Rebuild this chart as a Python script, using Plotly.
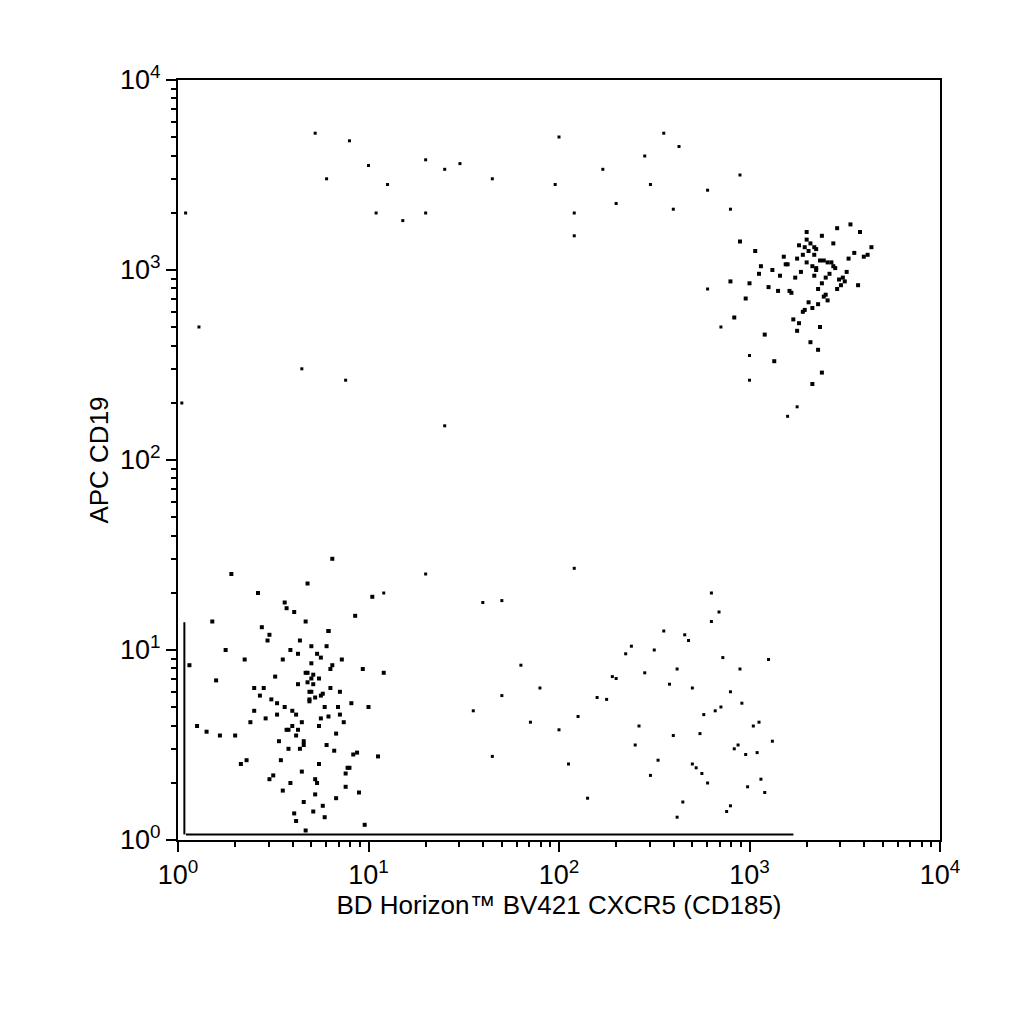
import plotly.graph_objects as go

# log10 coordinates of events
# population A: CXCR5- CD19- (bottom left)
xa = [0.72,0.65,0.80,0.58,0.70,0.77,0.62,0.68,0.85,0.55,0.74,0.69,0.60,0.79,0.66,0.71,0.52,0.88,0.63,0.75,
      0.45,0.92,0.67,0.57,0.81,0.73,0.49,0.64,0.78,0.70,0.40,0.95,0.61,0.83,0.68,0.54,0.76,0.59,0.87,0.66,
      0.35,1.00,0.71,0.48,0.82,0.63,0.74,0.56,0.90,0.69,0.30,0.97,0.62,0.44,0.79,0.72,0.51,0.85,0.67,0.58,
      0.25,1.05,0.75,0.42,0.88,0.60,0.70,0.53,0.93,0.65,0.20,0.38,0.77,0.47,0.84,0.64,0.73,0.55,0.80,0.68,
      0.15,1.08,0.33,0.91,0.57,0.76,0.62,0.86,0.50,0.71,0.10,0.28,0.98,0.43,0.66,0.79,0.59,0.74,0.46,0.83,
      0.06,0.22,1.02,0.36,0.69,0.61,0.78,0.52,0.89,0.67,0.18,0.94,0.40,0.72,0.56,0.81,0.63,0.75,0.48,0.70]
ya = [0.75,0.62,0.90,0.48,1.02,0.70,0.55,0.83,0.66,0.95,0.40,0.78,0.60,1.10,0.52,0.87,0.72,0.35,0.98,0.64,
      0.80,0.45,1.15,0.58,0.92,0.30,0.74,1.05,0.50,0.85,0.68,0.25,1.20,0.56,0.88,0.42,0.77,1.00,0.62,0.20,
      0.95,0.70,0.15,1.08,0.47,0.82,0.60,1.25,0.38,0.73,0.55,0.90,0.10,1.12,0.65,0.32,0.86,0.78,0.05,0.58,
      1.00,0.44,0.76,1.30,0.28,0.68,0.93,0.52,1.18,0.36,0.84,0.62,0.12,1.05,0.70,0.48,0.98,0.26,0.80,1.35,
      0.57,0.88,0.40,0.72,1.22,0.18,0.66,0.95,0.34,0.82,0.60,1.40,0.08,0.76,0.50,1.10,0.30,0.85,0.64,0.22,
      0.92,0.55,1.28,0.42,0.74,0.14,1.02,0.66,0.38,0.88,1.15,0.46,0.80,0.24,0.70,1.48,0.58,0.96,0.32,0.78]

# population B: CXCR5+ CD19+ (top right)
xb = [3.35,3.30,3.40,3.28,3.38,3.33,3.42,3.25,3.36,3.31,3.45,3.22,3.37,3.34,3.29,3.48,3.20,3.39,3.32,3.27,
      3.50,3.18,3.41,3.35,3.24,3.44,3.30,3.15,3.52,3.36,3.26,3.47,3.12,3.38,3.33,3.55,3.10,3.43,3.28,3.58,
      3.05,3.40,3.34,3.23,3.60,3.00,3.46,3.31,3.19,3.37,2.95,3.49,3.29,3.62,3.08,3.35,3.21,3.53,2.92,3.39,
      3.32,3.16,3.44,3.26,3.57,3.03,3.36,3.41,2.98,3.30,3.13,3.51,3.34,3.25,3.46,3.06,3.38,3.64,2.90,3.33]
yb = [3.00,3.04,2.96,3.08,2.93,3.02,2.98,3.06,2.90,3.10,3.01,2.88,3.05,2.97,3.12,2.92,3.03,2.86,3.14,2.99,
      2.94,3.07,2.84,3.11,2.96,3.02,3.16,2.89,3.06,2.82,3.13,2.95,3.00,3.18,2.80,3.09,2.91,3.04,2.78,3.20,
      2.98,2.87,3.12,2.74,3.07,2.93,3.22,2.83,3.03,2.70,3.15,2.96,2.79,3.08,2.66,3.01,2.89,3.24,2.75,3.05,
      2.62,2.97,3.14,2.72,2.92,3.10,2.58,3.04,2.85,3.20,2.52,2.99,3.08,2.68,2.90,3.02,2.46,3.12,2.94,2.40]

# population C: CXCR5+ CD19- (bottom middle)
xc = [2.85,2.60,2.95,2.70,3.05,2.50,2.78,2.90,2.40,3.10,2.65,2.82,2.30,2.98,2.55,2.75,3.02,2.20,2.88,2.45,
      2.68,2.92,2.10,3.08,2.58,2.80,2.00,2.72,2.96,2.35,2.62,3.12,1.90,2.84,2.52,2.76,1.80,2.99,2.42,2.66,
      1.70,2.90,2.28,3.04,1.60,2.74,2.48,2.86,1.55,2.15,2.94,2.38,2.70,1.65,3.06,2.25,2.80,1.85,2.62,2.05]
yc = [0.70,0.55,0.90,0.40,0.62,1.00,0.30,0.78,0.50,0.95,0.20,0.68,0.85,0.45,1.10,0.35,0.60,0.75,0.15,0.88,
      1.05,0.48,0.65,0.25,0.82,1.15,0.58,0.38,0.72,0.98,0.12,0.52,0.80,1.20,0.42,0.66,0.92,0.28,0.60,1.08,
      0.76,0.18,0.86,0.46,1.25,0.56,0.34,0.96,0.68,0.22,0.50,1.02,0.80,0.44,0.32,0.74,1.30,0.62,0.90,0.40]

# scattered single events
xd = [0.72,0.90,0.78,1.00,1.10,1.18,1.04,1.30,1.40,1.48,1.65,1.30,2.00,1.98,2.08,2.08,2.23,2.30,2.45,2.55,
      2.63,2.48,2.60,2.78,2.95,2.90,0.04,0.11,0.02,0.65,0.88,1.40,1.08,1.30,1.70,2.08,2.85,2.78,3.00,3.00,3.20,3.25]
yd = [3.72,3.68,3.48,3.55,3.45,3.26,3.30,3.58,3.53,3.56,3.48,3.30,3.70,3.45,3.30,3.18,3.53,3.35,3.60,3.72,
      3.65,3.45,3.32,3.42,3.50,3.32,3.30,2.70,2.30,2.48,2.42,2.18,1.30,1.40,1.26,1.43,2.70,2.90,2.42,2.55,2.23,2.28]

# events piled on the axes
floor_x = [1.1, 1700]
floor_y = [1.07, 1.07]
wall_x = [1.08, 1.08]
wall_y = [1.07, 14]

fig = go.Figure()
for lx, ly, sz in [(xa, ya, 4), (xb, yb, 4), (xc, yc, 3), (xd, yd, 3)]:
    fig.add_trace(go.Scatter(
        x=[10 ** v for v in lx], y=[10 ** v for v in ly], mode="markers",
        marker=dict(color="black", size=sz, symbol="square"), showlegend=False))
for lx, ly in [(floor_x, floor_y), (wall_x, wall_y)]:
    fig.add_trace(go.Scatter(x=lx, y=ly, mode="lines",
                             line=dict(color="black", width=2), showlegend=False))

decades = [1, 10, 100, 1000, 10000]
labels = ["10<sup>%d</sup>" % i for i in range(5)]
axis = dict(type="log", range=[0, 4], tickvals=decades, ticktext=labels,
            ticks="outside", ticklen=10, tickwidth=1.5, tickcolor="black",
            showline=True, linecolor="black", linewidth=2, mirror=True,
            showgrid=False, zeroline=False,
            minor=dict(ticks="outside", ticklen=5, tickcolor="black", dtick="D1", showgrid=False),
            tickfont=dict(size=27, color="black"))

fig.update_layout(
    width=1024, height=1024,
    margin=dict(l=170, r=92, t=72, b=192),
    paper_bgcolor="white", plot_bgcolor="white",
    font=dict(family="Liberation Sans", color="black"),
    xaxis=dict(axis, title=dict(text="BD Horizon™ BV421 CXCR5 (CD185)", font=dict(size=26), standoff=4)),
    yaxis=dict(axis, title=dict(text="APC CD19", font=dict(size=26), standoff=4)),
)

fig.write_html("out.html")
